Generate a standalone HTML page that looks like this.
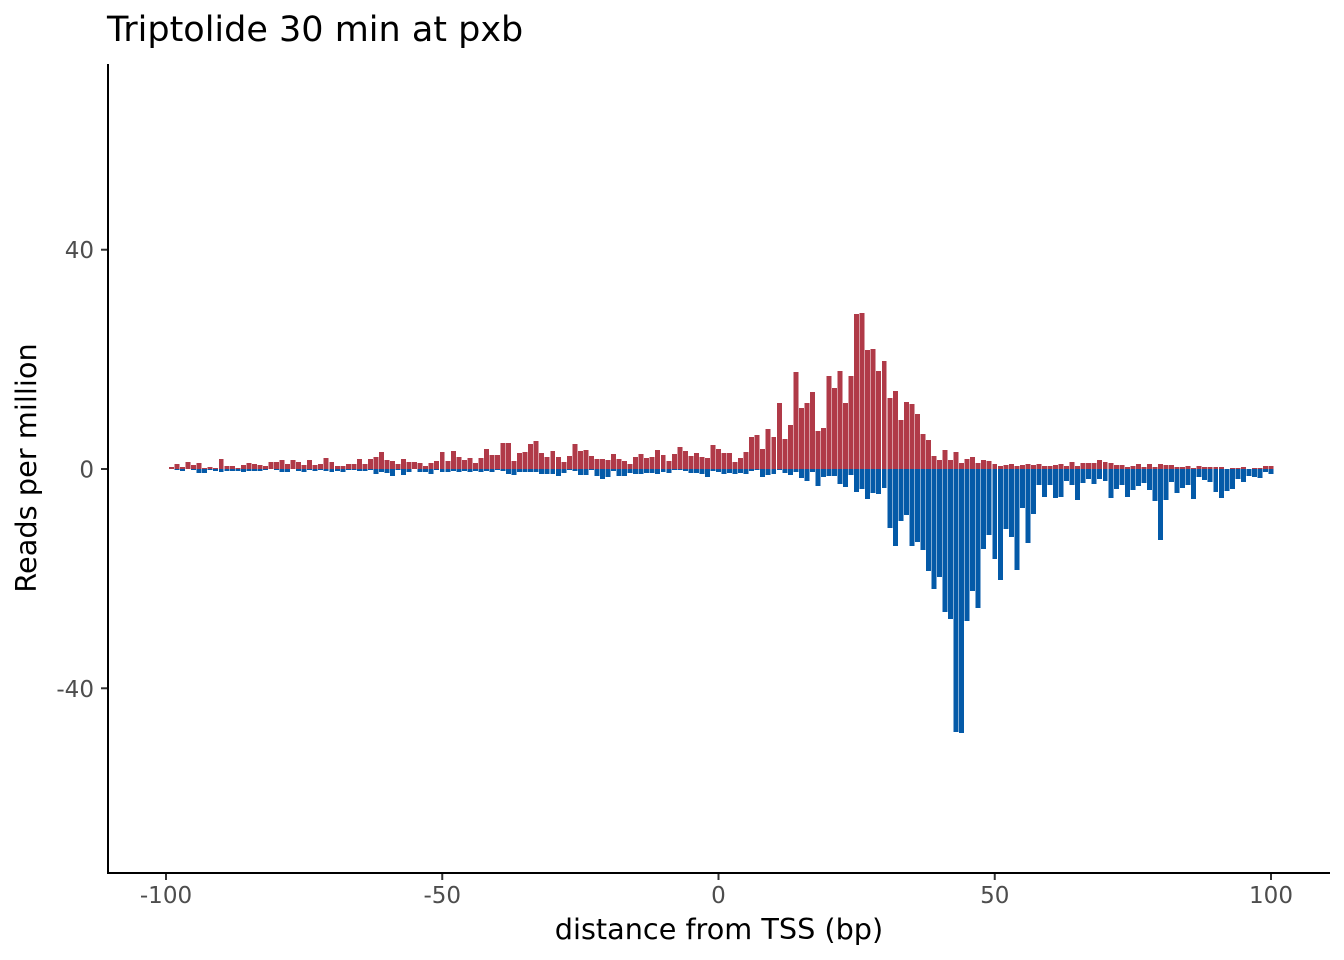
<!DOCTYPE html>
<html lang="en">
<head>
<meta charset="utf-8">
<title>Triptolide 30 min at pxb</title>
<style>
  html, body { margin: 0; padding: 0; background: #fff; }
  svg { display: block; font-family: "DejaVu Sans", "Liberation Sans", sans-serif; }
</style>
</head>
<body>
<svg id="chart" xmlns="http://www.w3.org/2000/svg" width="1344" height="960" viewBox="0 0 1344 960">
  <rect x="0" y="0" width="1344" height="960" fill="#ffffff"/>
  <text x="107" y="41" font-size="35" fill="#000000">Triptolide 30 min at pxb</text>
  <g id="bars" shape-rendering="crispEdges"></g>
  <g id="axes"></g>
  <text x="719" y="939" font-size="28.7" text-anchor="middle" fill="#000000">distance from TSS (bp)</text>
  <text transform="translate(36 468) rotate(-90)" font-size="28.8" text-anchor="middle" fill="#000000">Reads per million</text>
</svg>
<script>
const positions = [-99,-98,-97,-96,-95,-94,-93,-92,-91,-90,
-89,-88,-87,-86,-85,-84,-83,-82,-81,-80,
-79,-78,-77,-76,-75,-74,-73,-72,-71,-70,
-69,-68,-67,-66,-65,-64,-63,-62,-61,-60,
-59,-58,-57,-56,-55,-54,-53,-52,-51,-50,
-49,-48,-47,-46,-45,-44,-43,-42,-41,-40,
-39,-38,-37,-36,-35,-34,-33,-32,-31,-30,
-29,-28,-27,-26,-25,-24,-23,-22,-21,-20,
-19,-18,-17,-16,-15,-14,-13,-12,-11,-10,
-9,-8,-7,-6,-5,-4,-3,-2,-1,0,
1,2,3,4,5,6,7,8,9,10,
11,12,13,14,15,16,17,18,19,20,
21,22,23,24,25,26,27,28,29,30,
31,32,33,34,35,36,37,38,39,40,
41,42,43,44,45,46,47,48,49,50,
51,52,53,54,55,56,57,58,59,60,
61,62,63,64,65,66,67,68,69,70,
71,72,73,74,75,76,77,78,79,80,
81,82,83,84,85,86,87,88,89,90,
91,92,93,94,95,96,97,98,99,100];

const plusStrand = [0.36,0.91,0.36,1.28,0.73,1.09,0.18,0.36,0.18,1.82,
0.55,0.55,0.18,0.73,1.09,0.91,0.73,0.55,1.28,1.28,
1.64,0.91,1.64,1.28,0.73,1.64,0.73,0.91,2.01,1.28,
0.55,0.55,0.91,0.91,1.82,0.91,1.82,2.19,3.1,1.64,
1.46,0.91,1.82,1.28,1.28,1.09,0.55,1.09,1.46,3.1,
1.46,3.28,2.19,1.64,2.01,1.09,2.01,3.65,2.55,2.55,
4.74,4.74,1.46,2.92,3.1,4.56,5.11,2.92,2.19,3.28,
2.19,1.28,2.37,4.56,3.28,3.47,2.37,1.82,1.82,1.64,
2.74,1.82,1.46,0.91,2.19,2.74,2.01,2.19,3.47,2.55,
1.46,2.74,4.01,3.28,2.37,2.92,2.19,2.01,4.38,3.65,
2.92,2.92,1.28,2.01,3.1,5.84,6.2,3.65,7.3,5.84,
12.04,5.47,8.03,17.69,11.13,12.04,14.04,6.93,7.48,16.96,
14.77,17.88,12.04,16.96,28.27,28.45,21.71,21.89,17.88,19.7,
12.95,14.23,8.94,12.22,11.86,10.03,6.38,5.29,2.37,1.64,
3.47,1.64,3.1,1.09,1.82,2.19,1.09,1.64,1.46,0.91,
0.55,0.73,0.91,0.55,0.73,0.91,0.73,0.91,0.55,0.55,
0.73,0.91,0.55,1.28,0.55,1.09,1.09,1.09,1.64,1.28,
1.09,0.73,0.73,0.36,0.55,0.91,0.36,0.91,0.36,0.91,
0.73,0.73,0.36,0.36,0.55,0.18,0.55,0.36,0.36,0.36,
0.36,0,0.18,0.18,0.36,0,0.18,0.18,0.55,0.55];

const minusStrand = [0,-0.18,-0.36,0,-0.18,-0.73,-0.73,-0.18,-0.36,-0.55,
-0.36,-0.36,-0.36,-0.55,-0.36,-0.36,-0.36,-0.18,0,-0.18,
-0.55,-0.55,0,-0.36,-0.55,-0.18,-0.36,-0.18,-0.36,-0.55,
-0.36,-0.55,-0.18,-0.18,-0.36,-0.36,-0.18,-0.91,-0.55,-0.73,
-1.28,-0.18,-1.09,-0.55,0,-0.55,-0.55,-0.91,-0.18,-0.55,
-0.55,-0.36,-0.55,-0.36,-0.55,-0.36,-0.55,-0.36,-0.55,-0.18,
-0.36,-0.91,-1.09,-0.55,-0.55,-0.55,-0.55,-0.91,-0.91,-0.91,
-1.28,-0.73,-0.18,-0.36,-1.09,-1.09,-0.18,-1.28,-1.82,-1.46,
-0.36,-1.28,-1.28,-0.73,-0.91,-0.91,-0.73,-0.73,-0.91,-0.55,
-0.73,-0.18,-0.18,-0.36,-0.73,-0.73,-0.91,-1.46,-0.36,-0.55,
-0.91,-0.73,-0.91,-0.73,-0.91,-0.36,-0.18,-1.46,-1.09,-0.91,
-0.18,-0.73,-1.09,-0.55,-1.64,-2.19,-0.55,-3.1,-1.46,-1.28,
-1.28,-2.74,-3.28,-1.09,-4.2,-3.65,-5.47,-4.38,-4.56,-3.47,
-10.76,-14.04,-9.48,-8.39,-14.04,-13.32,-14.77,-18.6,-21.89,-19.7,
-26.08,-27.36,-47.97,-48.15,-27.72,-22.25,-25.35,-14.59,-12.04,-16.42,
-20.25,-10.94,-12.4,-18.42,-7.11,-13.5,-8.21,-2.92,-5.11,-2.92,
-5.29,-5.11,-2.19,-2.92,-5.65,-2.55,-1.82,-2.74,-1.82,-2.19,
-5.29,-3.65,-2.92,-5.11,-3.83,-3.1,-2.55,-3.83,-5.84,-12.95,
-5.65,-2.37,-4.38,-3.47,-2.92,-5.47,-1.46,-2.01,-2.37,-4.2,
-5.29,-4.01,-3.65,-1.82,-2.37,-1.28,-1.46,-1.64,-0.55,-0.91];

const xTicks = [-100, -50, 0, 50, 100];
const yTicks = [40, 0, -40];

const NS = 'http://www.w3.org/2000/svg';
const plotLeft = 108, plotBottom = 873, plotTop = 64, plotRight = 1330;
const xScale = function (v) { return 718.5 + v * 5.525; };
const yScale = function (v) { return 469 - v * 5.482; };
const barWidth = 0.9 * 5.525;

const barsGroup = document.getElementById('bars');
const axesGroup = document.getElementById('axes');

function addBar(pos, value, colour) {
  if (value === 0) return null;
  const r = document.createElementNS(NS, 'rect');
  const y0 = yScale(0), y1 = yScale(value);
  r.setAttribute('x', xScale(pos) - barWidth / 2);
  r.setAttribute('width', barWidth);
  r.setAttribute('y', Math.min(y0, y1));
  r.setAttribute('height', Math.abs(y1 - y0));
  r.setAttribute('fill', colour);
  barsGroup.appendChild(r);
  return r;
}

positions.forEach(function (pos, i) {
  const up = addBar(pos, plusStrand[i], '#B03A48');
  if (up) {
    
    
  }
  const down = addBar(pos, minusStrand[i], '#045AA8');
  if (down) {
    
    
  }
});

function line(x1, y1, x2, y2, colour, w) {
  const l = document.createElementNS(NS, 'line');
  l.setAttribute('x1', x1);
  l.setAttribute('y1', y1);
  l.setAttribute('x2', x2);
  l.setAttribute('y2', y2);
  l.setAttribute('stroke', colour);
  l.setAttribute('stroke-width', w);
  axesGroup.appendChild(l);
  return l;
}

function label(x, y, txt, anchor) {
  const t = document.createElementNS(NS, 'text');
  t.setAttribute('x', x);
  t.setAttribute('y', y);
  t.setAttribute('font-size', '23.04');
  t.setAttribute('fill', '#4D4D4D');
  t.setAttribute('text-anchor', anchor);
  t.textContent = txt;
  axesGroup.appendChild(t);
  return t;
}

const xAxisLine = line(plotLeft - 1, plotBottom, plotRight, plotBottom, '#000000', 2);


const yAxisLine = line(plotLeft, plotTop, plotLeft, plotBottom + 1, '#000000', 2);



xTicks.forEach(function (v) {
  const tick = line(xScale(v), plotBottom + 1, xScale(v), plotBottom + 7, '#333333', 2);
  
  
  const tl = label(xScale(v), 903, String(v), 'middle');
  
  
});

yTicks.forEach(function (v) {
  const tick = line(plotLeft - 7, yScale(v), plotLeft - 1, yScale(v), '#333333', 2);
  
  
  const tl = label(94, yScale(v) + 8.5, String(v), 'end');
  
  
});
</script>
</body>
</html>
